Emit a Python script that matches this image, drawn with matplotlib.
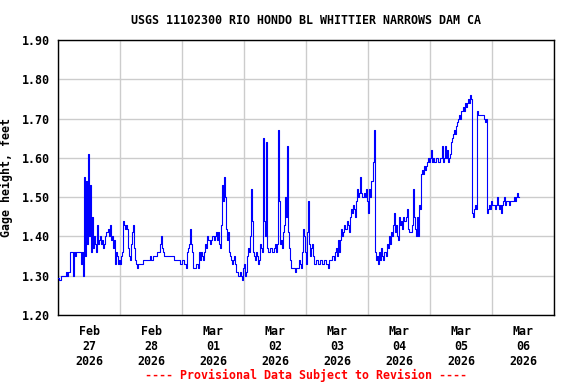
import matplotlib
matplotlib.use("Agg")
import matplotlib.pyplot as plt
import numpy as np
import pandas as pd

title = "USGS 11102300 RIO HONDO BL WHITTIER NARROWS DAM CA"
ylabel = "Gage height, feet"
footer = "---- Provisional Data Subject to Revision ----"

start_time = "2026-02-27 00:00"
sample_minutes = 23.2  # readings taken at regular spacing
gage_height = [
    1.295, 1.29, 1.29, 1.30, 1.30, 1.30, 1.30, 1.30, 1.31, 1.30,
    1.31, 1.31, 1.36, 1.36, 1.36, 1.30, 1.36, 1.35, 1.36, 1.36,
    1.36, 1.36, 1.36, 1.33, 1.36, 1.30, 1.55, 1.35, 1.54, 1.38,
    1.61, 1.40, 1.53, 1.36, 1.45, 1.37, 1.40, 1.38, 1.36, 1.43,
    1.38, 1.39, 1.40, 1.38, 1.39, 1.37, 1.38, 1.40, 1.41, 1.41,
    1.42, 1.40, 1.43, 1.39, 1.40, 1.37, 1.39, 1.33, 1.36, 1.35,
    1.33, 1.34, 1.33, 1.35, 1.36, 1.44, 1.43, 1.42, 1.43, 1.42,
    1.37, 1.35, 1.34, 1.38, 1.41, 1.43, 1.37, 1.34, 1.33, 1.32,
    1.33, 1.33, 1.33, 1.33, 1.33, 1.34, 1.34, 1.34, 1.34, 1.34,
    1.34, 1.34, 1.35, 1.34, 1.34, 1.35, 1.35, 1.35, 1.35, 1.36,
    1.36, 1.36, 1.38, 1.40, 1.37, 1.36, 1.35, 1.35, 1.35, 1.35,
    1.35, 1.35, 1.35, 1.35, 1.35, 1.35, 1.34, 1.34, 1.34, 1.34,
    1.34, 1.34, 1.33, 1.33, 1.34, 1.34, 1.33, 1.33, 1.32, 1.36,
    1.37, 1.38, 1.42, 1.38, 1.36, 1.32, 1.32, 1.32, 1.33, 1.33,
    1.32, 1.36, 1.34, 1.36, 1.35, 1.34, 1.36, 1.38, 1.37, 1.40,
    1.39, 1.39, 1.38, 1.39, 1.40, 1.40, 1.39, 1.40, 1.41, 1.39,
    1.41, 1.38, 1.37, 1.43, 1.53, 1.49, 1.55, 1.50, 1.42, 1.39,
    1.41, 1.36, 1.35, 1.34, 1.33, 1.34, 1.35, 1.33, 1.31, 1.31,
    1.30, 1.30, 1.31, 1.30, 1.29, 1.32, 1.33, 1.30, 1.31, 1.35,
    1.37, 1.36, 1.40, 1.52, 1.44, 1.36, 1.35, 1.34, 1.36, 1.35,
    1.33, 1.34, 1.38, 1.37, 1.36, 1.65, 1.44, 1.40, 1.64, 1.37,
    1.36, 1.36, 1.37, 1.37, 1.36, 1.36, 1.37, 1.38, 1.36, 1.38,
    1.67, 1.49, 1.38, 1.39, 1.37, 1.41, 1.43, 1.50, 1.45, 1.63,
    1.41, 1.37, 1.34, 1.32, 1.32, 1.32, 1.32, 1.31, 1.32, 1.32,
    1.32, 1.34, 1.33, 1.32, 1.36, 1.42, 1.40, 1.36, 1.33, 1.41,
    1.49, 1.38, 1.35, 1.37, 1.38, 1.35, 1.33, 1.33, 1.34, 1.34,
    1.33, 1.33, 1.34, 1.34, 1.33, 1.33, 1.34, 1.34, 1.33, 1.33,
    1.32, 1.34, 1.34, 1.34, 1.35, 1.35, 1.34, 1.36, 1.37, 1.35,
    1.39, 1.36, 1.39, 1.42, 1.40, 1.41, 1.43, 1.42, 1.42, 1.44,
    1.43, 1.41, 1.45, 1.47, 1.46, 1.48, 1.47, 1.45, 1.49, 1.52,
    1.50, 1.51, 1.55, 1.51, 1.50, 1.50, 1.51, 1.50, 1.52, 1.49,
    1.46, 1.52, 1.50, 1.54, 1.54, 1.59, 1.67, 1.36, 1.34, 1.35,
    1.33, 1.36, 1.34, 1.37, 1.35, 1.34, 1.36, 1.36, 1.35, 1.38,
    1.37, 1.40, 1.38, 1.41, 1.40, 1.43, 1.46, 1.41, 1.43, 1.40,
    1.39, 1.45, 1.43, 1.44, 1.42, 1.45, 1.44, 1.44, 1.45, 1.47,
    1.42, 1.41, 1.41, 1.41, 1.43, 1.52, 1.45, 1.42, 1.40, 1.45,
    1.40, 1.48, 1.47, 1.56, 1.57, 1.56, 1.58, 1.57, 1.58, 1.59,
    1.60, 1.59, 1.60, 1.62, 1.59, 1.60, 1.59, 1.59, 1.60, 1.60,
    1.59, 1.59, 1.60, 1.60, 1.63, 1.59, 1.60, 1.63, 1.60, 1.62,
    1.59, 1.60, 1.61, 1.64, 1.65, 1.66, 1.67, 1.66, 1.68, 1.69,
    1.70, 1.71, 1.70, 1.72, 1.72, 1.73, 1.72, 1.74, 1.73, 1.74,
    1.75, 1.74, 1.76, 1.75, 1.46, 1.45, 1.47, 1.48, 1.47, 1.72,
    1.71, 1.71, 1.71, 1.71, 1.71, 1.71, 1.70, 1.69, 1.70, 1.46,
    1.47, 1.48, 1.47, 1.49, 1.48, 1.48, 1.48, 1.47, 1.48, 1.50,
    1.48, 1.47, 1.48, 1.46, 1.48, 1.49, 1.50, 1.48, 1.49, 1.49,
    1.49, 1.49, 1.48, 1.49, 1.49, 1.49, 1.49, 1.50, 1.49, 1.50,
    1.51, 1.50, 1.50,
]
x_start = "2026-02-27 00:00"
x_end = "2026-03-07 00:00"
y_ticks = [1.20, 1.30, 1.40, 1.50, 1.60, 1.70, 1.80, 1.90]

times = pd.Timestamp(start_time) + pd.to_timedelta(
    np.arange(len(gage_height)) * sample_minutes, unit="min")

plt.rcParams['font.family'] = ['DejaVu Sans Mono']
plt.rcParams['font.weight'] = 'bold'
fs = 8.4

fig = plt.figure(figsize=(5.76, 3.84), dpi=100)
ax = fig.add_axes([58/576, 1-315/384, (554-58)/576, (315-40)/384])

ax.plot(times, gage_height, color='#0000ff', lw=0.8, drawstyle='steps-post', zorder=3)

ax.set_xlim(pd.Timestamp(x_start), pd.Timestamp(x_end))
ax.set_ylim(1.20, 1.90)
ax.set_yticks(y_ticks)
ax.set_yticklabels([f"{v:.2f}" for v in y_ticks], fontsize=fs, fontweight='bold')

days = pd.date_range(x_start, x_end, freq='D')
ax.set_xticks(days, minor=False)
ax.xaxis.set_major_formatter(plt.NullFormatter())
noons = days[:-1] + pd.Timedelta(hours=12)
ax.set_xticks(noons, minor=True)
ax.set_xticklabels([f"{d:%b}\n{d:%d}\n{d:%Y}" for d in noons], minor=True,
                   fontsize=fs, fontweight='bold')
ax.tick_params(axis='x', which='both', length=0, pad=7)
ax.tick_params(axis='y', length=0, pad=6)

ax.grid(True, which='major', color='#cccccc', lw=1.0, zorder=0)
for s in ax.spines.values():
    s.set_color('black')
    s.set_linewidth(1.0)

ax.set_ylabel(ylabel, fontsize=fs, fontweight='bold')
ax.yaxis.set_label_coords((13 - 58) / 496, 0.5)
fig.text(306/576, 1-20/384, title, ha='center', va='center', fontsize=fs, fontweight='bold')
fig.text(306/576, 1-375/384, footer, ha='center', va='center', fontsize=fs,
         fontweight='bold', color='#ff0000')

fig.savefig("out.png", dpi=100)
